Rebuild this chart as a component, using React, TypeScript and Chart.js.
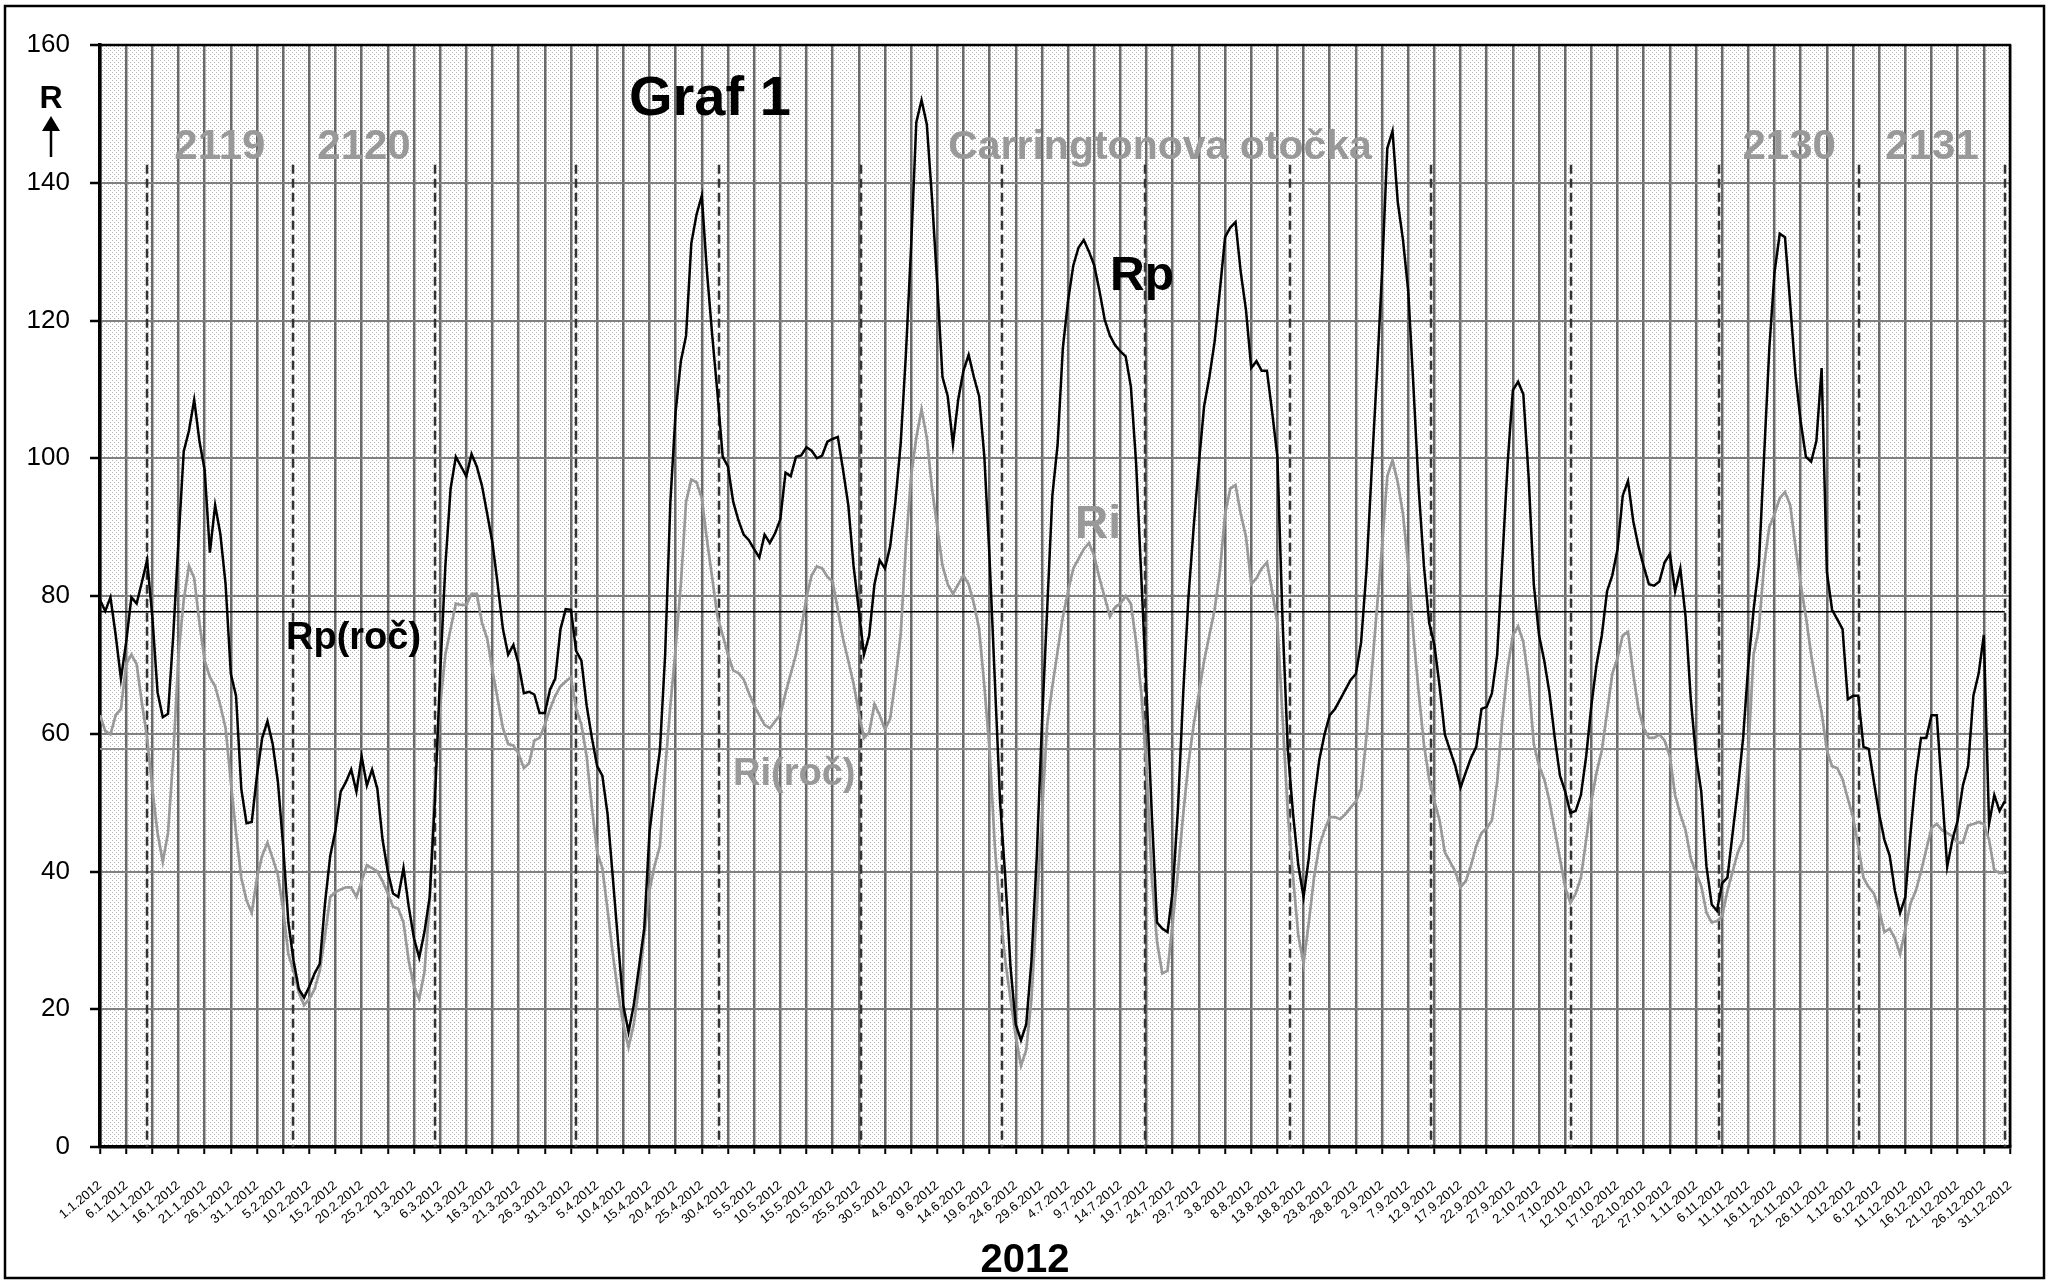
import { useEffect, useRef } from "react";
import { Chart, registerables } from "chart.js";

Chart.register(...registerables);

// Daily relative sunspot numbers 2012 (Rp – black, Ri – gray), day 1 = 1.1.2012
const rpValues: number[] = [
  // Jan
  79.4, 77.8, 79.8, 74.3, 68, 73.3, 79.8, 78.9, 82, 85.2, 77, 66, 62.4, 62.9, 74.3, 88, 101, 104, 108.5, 102.5, 98.3, 86.3, 93.2, 89, 81.7, 68.7, 65.5, 52, 47, 47.2, 54,
  // Feb
  59.4, 61.8, 58.5, 53, 43.7, 32.6, 27, 22.9, 21.7, 23.3, 25.2, 26.6, 35.4, 42.3, 46, 51.6, 53, 54.8, 51.6, 56.7, 52.5, 54.8, 52, 44.6, 40, 36.8, 36.3, 40.5, 34.9,
  // Mar
  30.3, 27.5, 31.2, 36.3, 50.2, 68.7, 84.4, 95.6, 100.2, 98.8, 97.4, 100.6, 98.8, 96, 91.9, 87.7, 81.7, 75.2, 71.5, 72.9, 70.1, 65.9, 66.1, 65.7, 63, 63, 66.4, 68, 75.2, 78.1, 78,
  // Apr
  72, 70.6, 64.1, 59.4, 55.3, 53.9, 48.3, 39.1, 29.8, 20.6, 16.7, 20.6, 26.1, 31.7, 45.6, 52, 57.6, 71.5, 93.7, 106.7, 114.1, 117.8, 131.2, 135.4, 138.1, 127, 117.8, 109.4, 100.2, 98.8,
  // May
  93.7, 91, 88.9, 88.1, 86.8, 85.6, 88.9, 87.7, 89.1, 91.1, 97.9, 97.4, 100.2, 100.4, 101.6, 101.1, 100, 100.4, 102.4, 102.8, 103.1, 98.3, 93.2, 84.4, 78, 71.5, 74.3, 81.7, 85.2, 84, 87.2,
  // Jun
  93.7, 102, 115, 130.7, 148.8, 152, 148.5, 137.7, 125.2, 111.8, 109, 102, 108.5, 112.7, 115, 111.8, 109, 100.2, 85.4, 67.8, 50.2, 39.1, 26.1, 17.8, 15.5, 17.8, 27, 41.9, 61.3, 78,
  // Jul
  94.6, 102, 116, 122.9, 128, 130.6, 131.7, 130, 128, 124.3, 120.1, 117.8, 116.4, 115.5, 114.8, 110.4, 99.3, 82.6, 65.9, 48.3, 32.6, 31.7, 31.2, 37.2, 49.2, 65.9, 79.8, 90, 99.3, 107.6, 111.8,
  // Aug
  116.9, 124.3, 132.1, 133.5, 134.3, 127, 121.5, 113.1, 114.1, 112.7, 112.7, 106.7, 100.2, 76.1, 57.6, 48.3, 40.9, 36.3, 41.9, 50.2, 56.2, 59.9, 62.7, 63.6, 65, 66.4, 67.8, 68.7, 73.3, 83.5, 98,
  // Sep
  112, 127, 145, 147.5, 137.2, 131.7, 124.3, 110.4, 95.6, 84.4, 76.1, 72.9, 66.9, 59.9, 57.6, 55.3, 52.2, 54.4, 56.5, 58.1, 63.6, 63.9, 65.9, 71.5, 85.4, 99.3, 109.9, 111.1, 109.3, 97.4,
  // Oct
  81.7, 74.3, 70.6, 65.9, 59.4, 53.9, 51.6, 48.5, 48.8, 51.1, 56.7, 64.1, 70.1, 74.3, 80.7, 83, 86.8, 94.6, 96.7, 90.9, 87.2, 84.3, 81.7, 81.5, 82.1, 84.9, 86.1, 80.7, 84, 77, 65,
  // Nov
  56.7, 51.6, 40.7, 35.2, 34.3, 38.3, 39.1, 45.6, 52, 59.4, 70.1, 78, 84.4, 100.2, 115.9, 127, 132.6, 132.1, 122.4, 112.2, 105.3, 100.2, 99.5, 102.5, 113.1, 83.5, 78, 76.6, 75.2, 65,
  // Dec
  65.5, 65.5, 58.1, 57.8, 53, 48.3, 44.6, 42.3, 37.2, 34, 36.3, 45.6, 53.9, 59.4, 59.4, 62.7, 62.7, 51.8, 40.7, 44.6, 47.4, 52.5, 55.3, 65.5, 68.7, 74.3, 46.9, 51.1, 48.8, 50.2,
];

const riValues: number[] = [
  // Jan
  62.7, 60.4, 59.9, 62.7, 63.6, 70.1, 71.5, 70.1, 64.5, 59.4, 52, 45.6, 41.4, 45.6, 56.7, 71.5, 79.4, 84.4, 82.6, 76.1, 70.6, 68.2, 66.9, 64.1, 60.8, 53, 45.6, 39.1, 35.8, 34, 39.1,
  // Feb
  42.3, 44.2, 41.9, 39.5, 34.4, 28, 25.6, 22.4, 20.6, 21.5, 22.9, 25.6, 30.7, 36.3, 37, 37.4, 37.7, 37.7, 36.3, 38.6, 40.9, 40.5, 40, 38.6, 36.8, 34.9, 34.6, 32.6, 27,
  // Mar
  23.3, 21.5, 25.4, 35.4, 53, 64.1, 71.5, 75.2, 78.9, 78.7, 78.7, 80.3, 80.3, 76.1, 73.8, 69.2, 65, 60.8, 58.5, 58.3, 57.1, 55, 55.7, 59, 59.4, 61.3, 63.6, 65.5, 66.9, 67.6, 68.2,
  // Apr
  63.6, 61.3, 56.7, 49.3, 42.8, 40.5, 34.4, 28, 22.4, 17.8, 14.5, 17.8, 23.3, 30.7, 37.2, 40.9, 43.7, 54.8, 64.1, 72.4, 81.7, 93.7, 96.9, 96.5, 94.2, 88.1, 82.6, 77, 74.3, 71.5,
  // May
  69.2, 68.8, 67.9, 65.9, 64.1, 62.7, 61.3, 60.8, 61.8, 62.7, 65.9, 68.7, 71.5, 75.2, 79.8, 83, 84.3, 84, 82.8, 82.1, 78, 73.8, 70.6, 67.3, 63.1, 59.4, 60.2, 64.3, 62.7, 60.6, 62.2,
  // Jun
  67.8, 74.3, 87.2, 97.4, 103, 107.1, 103, 95.6, 90, 84.4, 81.7, 80.3, 81.7, 83, 81.7, 78.9, 75.2, 66.9, 57.6, 43.7, 34.4, 27, 21.5, 16, 11.8, 14.1, 21.5, 34.4, 48.3, 61.3,
  // Jul
  66.9, 72, 77, 80.7, 84, 85.4, 86.8, 87.7, 85.8, 82.6, 79.8, 77, 78.4, 78.9, 80, 78.9, 73.3, 65.9, 54.8, 39.1, 29.8, 25.2, 25.6, 32.6, 40, 48.3, 55.7, 61.3, 65.9, 70.6, 74.3,
  // Aug
  78, 83.5, 91.9, 95.6, 96.1, 91.9, 88.6, 81.7, 82.6, 84, 84.9, 80.7, 76.1, 62.2, 48.3, 39.1, 30.7, 26.6, 32.6, 39.1, 43.7, 46, 47.9, 47.9, 47.6, 48.3, 49.3, 50.2, 52, 59.4, 68.7,
  // Sep
  78, 87.2, 97.4, 99.7, 96.5, 91.9, 84.4, 74.3, 66, 58.5, 53.4, 50.2, 47.4, 42.8, 41.4, 40, 37.7, 38.6, 40.9, 43.7, 45.6, 46.3, 47.4, 53, 62.2, 69.6, 74.3, 75.6, 73.3, 67.8,
  // Oct
  58.5, 55.3, 53.4, 50.2, 46, 41.9, 37.7, 35.4, 36.8, 39.1, 44.6, 50.2, 54.4, 57.6, 63.1, 68.7, 71, 74.3, 74.8, 68.7, 63.6, 60.8, 59.4, 59.4, 59.9, 59, 56.7, 51.1, 48.3, 46, 41.9,
  // Nov
  39.8, 37.9, 34, 32.6, 32.8, 33.5, 37.2, 40, 42.8, 44.6, 57.6, 71.5, 75.2, 84.4, 90, 91.9, 94.2, 95.1, 93.2, 87.2, 81.7, 77, 71.5, 66.9, 63.1, 57.6, 55.3, 55, 53.4, 50.6,
  // Dec
  47.9, 43.7, 39.1, 37.7, 36.8, 34.4, 31.2, 31.7, 30.3, 28, 31.7, 35.4, 37.2, 40, 43.2, 46.3, 46.9, 46, 45.6, 45.1, 44.2, 44.2, 46.7, 46.9, 47.2, 46.9, 44.6, 40.2, 39.8, 39.8,
];

// Annual means
const rpAnnual = 77.7;
const riAnnual = 57.8;

// Starts of Carrington rotations (day of year, fractional)
const carringtonStarts = [10.0, 37.8, 65.1, 91.9, 119.3, 146.4, 173.3, 200.7, 228.5, 255.4, 282.1, 310.4, 337.2, 365.0];
// Numbered rotations shown: [label, index of its start in carringtonStarts]
const rotationNames = ["2119", "2120", "2130", "2131"];
const rotationIndex = [0, 1, 11, 12];

const tickLabels = [
  "1.1.2012", "6.1.2012", "11.1.2012", "16.1.2012", "21.1.2012", "26.1.2012", "31.1.2012",
  "5.2.2012", "10.2.2012", "15.2.2012", "20.2.2012", "25.2.2012",
  "1.3.2012", "6.3.2012", "11.3.2012", "16.3.2012", "21.3.2012", "26.3.2012", "31.3.2012",
  "5.4.2012", "10.4.2012", "15.4.2012", "20.4.2012", "25.4.2012", "30.4.2012",
  "5.5.2012", "10.5.2012", "15.5.2012", "20.5.2012", "25.5.2012", "30.5.2012",
  "4.6.2012", "9.6.2012", "14.6.2012", "19.6.2012", "24.6.2012", "29.6.2012",
  "4.7.2012", "9.7.2012", "14.7.2012", "19.7.2012", "24.7.2012", "29.7.2012",
  "3.8.2012", "8.8.2012", "13.8.2012", "18.8.2012", "23.8.2012", "28.8.2012",
  "2.9.2012", "7.9.2012", "12.9.2012", "17.9.2012", "22.9.2012", "27.9.2012",
  "2.10.2012", "7.10.2012", "12.10.2012", "17.10.2012", "22.10.2012", "27.10.2012",
  "1.11.2012", "6.11.2012", "11.11.2012", "16.11.2012", "21.11.2012", "26.11.2012",
  "1.12.2012", "6.12.2012", "11.12.2012", "16.12.2012", "21.12.2012", "26.12.2012", "31.12.2012",
];
const tickStep = 5;
const yTicks = [0, 20, 40, 60, 80, 100, 120, 140, 160];

const FONT = "'Liberation Sans', Arial, sans-serif";

export default function App() {
  const ref = useRef<HTMLCanvasElement | null>(null);

  useEffect(() => {
    const canvas = ref.current;
    if (!canvas) return;

    const lastDay = 1 + (tickLabels.length - 1) * tickStep;

    const bgPlugin = {
      id: "bgPattern",
      beforeDraw(chart: any) {
        const { ctx, chartArea } = chart;
        const tile = document.createElement("canvas");
        tile.width = 4;
        tile.height = 4;
        const t = tile.getContext("2d")!;
        t.fillStyle = "#ffffff";
        t.fillRect(0, 0, 4, 4);
        t.fillStyle = "#b4b4b4";
        t.fillRect(0, 0, 1, 1);
        t.fillRect(2, 2, 1, 1);
        const pat = ctx.createPattern(tile, "repeat");
        ctx.save();
        ctx.fillStyle = pat;
        ctx.fillRect(chartArea.left, chartArea.top, chartArea.right - chartArea.left, chartArea.bottom - chartArea.top);
        ctx.restore();
      },
      beforeDatasetsDraw(chart: any) {
        const { ctx } = chart;
        const xs = chart.scales.x;
        const ys = chart.scales.y;
        ctx.save();
        ctx.strokeStyle = "#333333";
        ctx.lineWidth = 2.5;
        ctx.setLineDash([9, 5]);
        const yTop = ys.getPixelForValue(142.6);
        const yBot = ys.getPixelForValue(0);
        carringtonStarts.forEach((d) => {
          const x = Math.round(xs.getPixelForValue(d));
          ctx.beginPath();
          ctx.moveTo(x, yTop);
          ctx.lineTo(x, yBot);
          ctx.stroke();
        });
        ctx.restore();
      },
      afterDraw(chart: any) {
        const { ctx, chartArea } = chart;
        const xs = chart.scales.x;
        const ys = chart.scales.y;
        ctx.save();
        // plot area top & right border
        ctx.strokeStyle = "#000";
        ctx.lineWidth = 2.5;
        ctx.beginPath();
        ctx.moveTo(chartArea.left, chartArea.top);
        ctx.lineTo(chartArea.right, chartArea.top);
        ctx.lineTo(chartArea.right, chartArea.bottom);
        ctx.stroke();
        // outer frame
        ctx.lineWidth = 2.5;
        ctx.strokeRect(5, 6, 2039, 1272);

        // rotation numbers
        ctx.fillStyle = "#999999";
        ctx.font = `bold 42px ${FONT}`;
        ctx.textAlign = "center";
        ctx.textBaseline = "alphabetic";
        const yRot = ys.getPixelForValue(143.4);
        rotationNames.forEach((name, i) => {
          const k = rotationIndex[i];
          const mid = (carringtonStarts[k] + carringtonStarts[k + 1]) / 2;
          ctx.fillText(name, xs.getPixelForValue(mid), yRot);
        });
        ctx.font = `bold 41px ${FONT}`;
        ctx.fillText("Carringtonova otočka", 1160, yRot);

        // Title
        ctx.fillStyle = "#000";
        ctx.textAlign = "left";
        ctx.font = `bold 56px ${FONT}`;
        ctx.fillText("Graf 1", 629, 115);

        // Series labels
        ctx.font = `bold 48px ${FONT}`;
        ctx.fillText("Rp", 1110, 290);
        ctx.fillStyle = "#999999";
        ctx.font = `bold 46px ${FONT}`;
        ctx.fillText("Ri", 1075, 538);
        ctx.fillStyle = "#000";
        ctx.font = `bold 38px ${FONT}`;
        ctx.fillText("Rp(roč)", 286, 649);
        ctx.fillStyle = "#999999";
        ctx.fillText("Ri(roč)", 733, 785);

        // Axis label R with arrow
        ctx.fillStyle = "#000";
        ctx.textAlign = "center";
        ctx.font = `bold 32px ${FONT}`;
        ctx.fillText("R", 51, 108);
        ctx.beginPath();
        ctx.moveTo(51, 116);
        ctx.lineTo(42, 131);
        ctx.lineTo(60, 131);
        ctx.closePath();
        ctx.fill();
        ctx.lineWidth = 2.5;
        ctx.beginPath();
        ctx.moveTo(51, 130);
        ctx.lineTo(51, 157);
        ctx.stroke();

        // x axis title
        ctx.font = `bold 40px ${FONT}`;
        ctx.fillText("2012", 1025, 1272);
        ctx.restore();
      },
    };

    const chart = new Chart(canvas, {
      type: "line",
      data: {
        datasets: [
          {
            label: "Rp",
            data: rpValues.map((v, i) => ({ x: i + 1, y: v })),
            borderColor: "#000000",
            borderWidth: 2.5,
            pointRadius: 0,
            tension: 0,
            fill: false,
          },
          {
            label: "Ri",
            data: riValues.map((v, i) => ({ x: i + 1, y: v })),
            borderColor: "#999999",
            borderWidth: 2.7,
            pointRadius: 0,
            tension: 0,
            fill: false,
          },
          {
            label: "Rp(roč)",
            data: [
              { x: 1, y: rpAnnual },
              { x: rpValues.length, y: rpAnnual },
            ],
            borderColor: "#000000",
            borderWidth: 1.5,
            pointRadius: 0,
            fill: false,
          },
          {
            label: "Ri(roč)",
            data: [
              { x: 1, y: riAnnual },
              { x: riValues.length, y: riAnnual },
            ],
            borderColor: "#8c8c8c",
            borderWidth: 2,
            pointRadius: 0,
            fill: false,
          },
        ],
      },
      options: {
        responsive: false,
        animation: false,
        events: [],
        layout: { padding: { top: 45, right: 45, bottom: 0, left: 0 }, autoPadding: false },
        plugins: {
          legend: { display: false },
          tooltip: { enabled: false },
          title: { display: false },
        },
        scales: {
          x: {
            type: "linear",
            min: 1,
            max: lastDay,
            afterBuildTicks: (scale: any) => {
              scale.ticks = tickLabels.map((_, i) => ({ value: 1 + i * tickStep }));
            },
            afterFit: (scale: any) => {
              scale.height = 134;
              scale.paddingLeft = 0;
              scale.paddingRight = 0;
            },
            ticks: {
              autoSkip: false,
              minRotation: 40,
              maxRotation: 40,
              padding: 24,
              color: "#000",
              font: { family: FONT, size: 13 },
              callback: (_v: any, i: number) => tickLabels[i],
            },
            grid: {
              color: "#6a6a6a",
              lineWidth: 2.5,
              drawTicks: true,
              tickLength: 7,
              tickColor: "#000",
              tickWidth: 2,
            },
            border: { display: true, color: "#000", width: 3.5 },
          },
          y: {
            type: "linear",
            min: 0,
            max: 160,
            afterBuildTicks: (scale: any) => {
              scale.ticks = yTicks.map((v) => ({ value: v }));
            },
            afterFit: (scale: any) => {
              scale.width = 100;
              scale.paddingTop = 0;
              scale.paddingBottom = 0;
            },
            ticks: {
              padding: 20,
              color: "#000",
              font: { family: FONT, size: 26 },
            },
            grid: {
              color: "#808080",
              lineWidth: 2,
              drawTicks: true,
              tickLength: 10,
              tickColor: "#000",
              tickWidth: 2.5,
            },
            border: { display: true, color: "#000", width: 3.5 },
          },
        },
      },
      plugins: [bgPlugin],
    } as any);

    return () => chart.destroy();
  }, []);

  return (
    <div style={{ position: "fixed", left: 0, top: 0, width: 2055, height: 1281, background: "#fff" }}>
      <canvas ref={ref} width={2055} height={1281} style={{ display: "block", width: 2055, height: 1281 }} />
    </div>
  );
}
